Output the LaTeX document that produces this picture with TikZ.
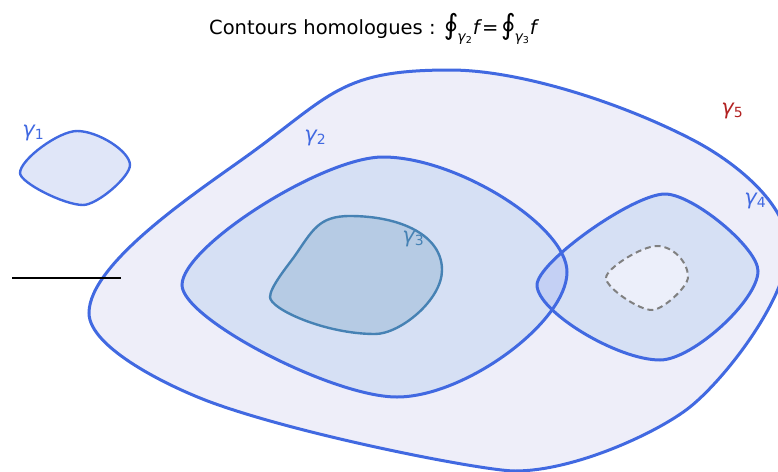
\documentclass[tikz,border=0pt]{standalone}
\usepackage{fontspec}
\setmainfont{DejaVu Sans}
\usetikzlibrary{calc}
\definecolor{royal}{RGB}{65,105,225}
\definecolor{steel}{RGB}{70,130,180}
\definecolor{fire}{RGB}{178,34,34}
\definecolor{fillfive}{RGB}{238,238,249}
\definecolor{filltwo}{RGB}{214,224,244}
\definecolor{fillover}{RGB}{196,208,244}
\definecolor{fillthree}{RGB}{182,203,228}
\definecolor{fillone}{RGB}{224,230,248}
\definecolor{fillhole}{RGB}{236,239,250}
\newcommand\subg[1]{\raisebox{-7pt}{\fontsize{14}{14}\selectfont\itshape γ\upshape\raisebox{-2.5pt}{\fontsize{9.5}{9.5}\selectfont #1}}}
\newcommand\bigoint{{\fontsize{28}{28}\selectfont ∮}}
\newcommand\glab[1]{{\itshape γ}\raisebox{-3pt}{\fontsize{14}{14}\selectfont #1}}
% blob from its four extreme points: name, left, top, right, bottom
\newcommand\mkblob[5]{%
  \coordinate (#1L) at (#2);
  \coordinate (#1T) at (#3);
  \coordinate (#1R) at (#4);
  \coordinate (#1B) at (#5);
  \coordinate (#1LT) at (#1L |- #1T);
  \coordinate (#1RT) at (#1R |- #1T);
  \coordinate (#1RB) at (#1R |- #1B);
  \coordinate (#1LB) at (#1L |- #1B);}
\newcommand\bpath[5]{(#1L)
  .. controls ($(#1L)!#2!(#1LT)$) and ($(#1T)!#2!(#1LT)$) .. (#1T)
  .. controls ($(#1T)!#3!(#1RT)$) and ($(#1R)!#3!(#1RT)$) .. (#1R)
  .. controls ($(#1R)!#4!(#1RB)$) and ($(#1B)!#4!(#1RB)$) .. (#1B)
  .. controls ($(#1B)!#5!(#1LB)$) and ($(#1L)!#5!(#1LB)$) .. (#1L) -- cycle}
\newcommand\pfive{(89,313)
  .. controls (89,263) and (198.3,191.1) .. (247,156)
  .. controls (332.2,94.6) and (340,70) .. (450,70)
  .. controls (520,70) and (622,103) .. (693,140)
  .. controls (732.9,160.8) and (788,203) .. (788,248)
  .. controls (788,298) and (725.1,378.9) .. (690,407)
  .. controls (658.8,432) and (575,471) .. (515,471)
  .. controls (485,471) and (307.1,436.9) .. (213,403)
  .. controls (170.7,387.7) and (89,348) .. (89,313) -- cycle}
\newcommand\pthree{(294,257)
  .. controls (312.4,230.8) and (318,216) .. (350,216)
  .. controls (400,216) and (442,235) .. (442,270)
  .. controls (442,300) and (400,334) .. (375,334)
  .. controls (325,334) and (270,309) .. (270,297)
  .. controls (270,287) and (288.2,265.2) .. (294,257) -- cycle}
\begin{document}
\begin{tikzpicture}[x=1pt,y=-1pt,
  thick contour/.style={draw=royal,line width=3pt},
  thin contour/.style={draw=royal,line width=2.4pt},
  inner contour/.style={draw=steel,line width=2.4pt},
  hole contour/.style={draw=gray,line width=2pt,dash pattern=on 6pt off 4pt},
  glabel/.style={inner sep=0pt,font=\fontsize{21}{21}\selectfont}]
\useasboundingbox (0,0) rectangle (778,471);
\clip (0,0) rectangle (778,471);
\mkblob{two}{182,285}{383,157}{567,272}{397,397}
\mkblob{four}{537,285}{665,194}{758,271}{660,360}
\mkblob{hole}{606,278}{657,246}{688,277}{652,310}
\mkblob{one}{20,173}{77,131}{130,165}{83,205}
% fills
\fill[fillfive] \pfive;
\fill[filltwo] \bpath{two}{0.3}{0.4}{0.4}{0.3};
\fill[fillthree] \pthree;
\fill[filltwo] \bpath{four}{0.25}{0.3}{0.33}{0.35};
\begin{scope}
  \clip \bpath{two}{0.3}{0.4}{0.4}{0.3};
  \fill[fillover] \bpath{four}{0.25}{0.3}{0.33}{0.35};
\end{scope}
\fill[fillhole] \bpath{hole}{0.3}{0.5}{0.3}{0.3};
\fill[fillone] \bpath{one}{0.32}{0.4}{0.3}{0.3};
% strokes
\draw[thick contour] \pfive;
\draw[thick contour] \bpath{two}{0.3}{0.4}{0.4}{0.3};
\draw[inner contour] \pthree;
\draw[thick contour] \bpath{four}{0.25}{0.3}{0.33}{0.35};
\draw[hole contour] \bpath{hole}{0.3}{0.5}{0.3}{0.3};
\draw[thin contour] \bpath{one}{0.32}{0.4}{0.3}{0.3};
% black segment
\coordinate (segA) at (12,278);
\coordinate (segB) at (121,278);
\draw[black,line width=1.6pt] (segA) -- (segB);
% labels
\node[glabel,text=royal] (g1) at (33,133) {\glab{1}};
\node[glabel,text=royal] (g2) at (315,138) {\glab{2}};
\node[glabel,text=steel] (g3) at (413,239) {\glab{3}};
\node[glabel,text=royal] (g4) at (755,201) {\glab{4}};
\node[glabel,text=fire] (g5) at (732,111) {\glab{5}};
% title
\node[anchor=base west,inner sep=0pt,font=\fontsize{19.5}{19.5}\selectfont] (title) at (209,34)
  {Contours homologues : \bigoint\kern-1pt\subg{2}\kern1pt{\itshape f}\kern2.5pt=\kern2.5pt\bigoint\kern-1pt\subg{3}\kern1pt{\itshape f}};
\end{tikzpicture}
\end{document}
